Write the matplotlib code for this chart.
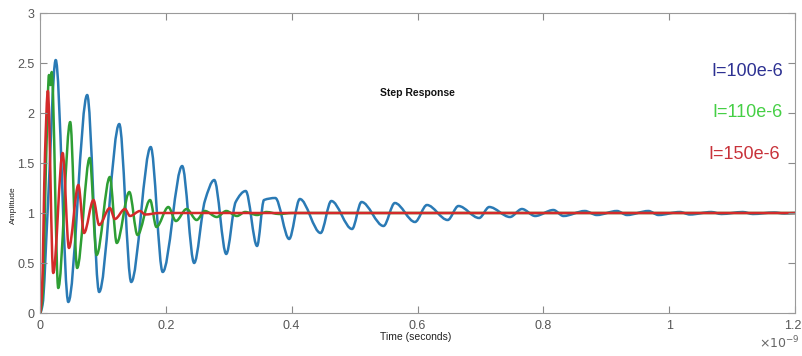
import matplotlib
matplotlib.use("Agg")
import matplotlib.pyplot as plt
from matplotlib.path import Path
from matplotlib.patches import PathPatch
import matplotlib.transforms as mtransforms

plt.rcParams['font.family'] = ['Liberation Sans', 'DejaVu Sans']

# time in units of 1e-9 s
t_blue = [0, 0.004, 0.012, 0.025, 0.045, 0.075, 0.094, 0.126, 0.145, 0.176, 0.195,
          0.226, 0.245, 0.262, 0.277, 0.296, 0.311, 0.327, 0.345, 0.356, 0.374, 0.396,
          0.413, 0.446, 0.463, 0.496, 0.511, 0.546, 0.564, 0.596, 0.615, 0.648, 0.665,
          0.698, 0.714, 0.747, 0.766, 0.787, 0.816, 0.832, 0.866, 0.885, 0.917, 0.933,
          0.967, 0.983, 1.017, 1.033, 1.067, 1.083, 1.117, 1.133, 1.167, 1.183, 1.2]
y_blue = [0, 0.08, 1.0, 2.53, 0.11, 2.18, 0.21, 1.89, 0.31, 1.66, 0.41,
          1.47, 0.50, 1.12, 1.33, 0.59, 1.11, 1.22, 0.67, 1.13, 1.15, 0.74,
          1.14, 0.80, 1.12, 0.84, 1.11, 0.87, 1.10, 0.91, 1.08, 0.93, 1.07,
          0.95, 1.06, 0.96, 1.04, 0.97, 1.03, 0.97, 1.02, 0.98, 1.02, 0.98,
          1.02, 0.98, 1.01, 0.985, 1.01, 0.99, 1.01, 0.99, 1.005, 0.995, 1.0]

t_green = [0, 0.004, 0.010, 0.0143, 0.0165, 0.0186, 0.029, 0.048, 0.059, 0.079, 0.090,
           0.111, 0.122, 0.142, 0.155, 0.175, 0.185, 0.204, 0.216, 0.233, 0.249,
           0.262, 0.281, 0.296, 0.313, 0.326, 0.345, 0.36, 0.38, 0.40, 1.2]
y_green = [0, 0.15, 1.6, 2.38, 2.28, 2.41, 0.25, 1.91, 0.45, 1.55, 0.58,
           1.36, 0.70, 1.21, 0.78, 1.13, 0.86, 1.06, 0.92, 1.04, 0.93,
           1.02, 0.96, 1.02, 0.97, 1.01, 0.98, 1.01, 0.99, 1.0, 1.0]

t_red = [0, 0.003, 0.008, 0.0125, 0.021, 0.036, 0.046, 0.061, 0.070, 0.085, 0.094,
         0.111, 0.119, 0.135, 0.143, 0.159, 0.167, 0.19, 1.2]
y_red = [0, 0.2, 1.6, 2.22, 0.40, 1.60, 0.65, 1.28, 0.80, 1.13, 0.88,
         1.05, 0.94, 1.04, 0.97, 1.02, 0.985, 1.0, 1.0]

labels = ["I=100e-6", "I=110e-6", "I=150e-6"]
label_colors = ["#2d3192", "#45cf45", "#c8323a"]
line_colors = ["#2a7ab5", "#2e9e34", "#d42a2a"]
xticks = [0, 0.2, 0.4, 0.6, 0.8, 1.0, 1.2]
xticklabels = ["0", "0.2", "0.4", "0.6", "0.8", "1", "1.2"]
yticks = [0, 0.5, 1, 1.5, 2, 2.5, 3]
yticklabels = ["0", "0.5", "1", "1.5", "2", "2.5", "3"]


def smooth_path(t, y):
    """Cubic Bezier path through the data points (flat tangents at extrema)."""
    n = len(t)
    m = []
    for i in range(n):
        if i == 0 or i == n - 1:
            m.append(0.0)
            continue
        d0 = (y[i] - y[i-1]) / (t[i] - t[i-1])
        d1 = (y[i+1] - y[i]) / (t[i+1] - t[i])
        if d0 * d1 <= 0:
            m.append(0.0)
        else:
            w0 = 2 * (t[i+1] - t[i]) + (t[i] - t[i-1])
            w1 = (t[i+1] - t[i]) + 2 * (t[i] - t[i-1])
            m.append((w0 + w1) / (w0 / d0 + w1 / d1))
    verts = [(t[0], y[0])]
    codes = [Path.MOVETO]
    for i in range(n - 1):
        h = t[i+1] - t[i]
        verts += [(t[i] + h/3, y[i] + m[i]*h/3),
                  (t[i+1] - h/3, y[i+1] - m[i+1]*h/3),
                  (t[i+1], y[i+1])]
        codes += [Path.CURVE4] * 3
    return Path(verts, codes)


fig = plt.figure(figsize=(8.02, 3.56), dpi=100)
ax = fig.add_axes([40/802, 1-313/356, 755/802, 300/356])

for t, y, c in zip([t_blue, t_green, t_red], [y_blue, y_green, y_red], line_colors):
    ax.add_patch(PathPatch(smooth_path(t, y), facecolor='none', edgecolor=c,
                           lw=1.8, joinstyle='round', capstyle='round'))

ax.set_xlim(0, 1.2)
ax.set_ylim(0, 3)
ax.set_xticks(xticks)
ax.set_xticklabels(xticklabels)
ax.set_yticks(yticks)
ax.set_yticklabels(yticklabels)
ax.tick_params(direction='in', length=5, width=0.8, color='#8a8a8a',
               labelcolor='#555555', labelsize=9, top=True, right=True)
ax.tick_params(axis='x', pad=5)
ax.tick_params(axis='y', pad=4)
for s in ax.spines.values():
    s.set_color('#9a9a9a')
    s.set_linewidth(0.8)

last = ax.get_xticklabels()[-1]
last.set_ha('right')
last.set_transform(last.get_transform() +
                   mtransforms.ScaledTranslation(6/100, 0, fig.dpi_scale_trans))

ax.set_xlabel("Time (seconds)", fontsize=7.5, color='#222222')
ax.xaxis.set_label_coords((416-40)/755, -(337-313)/300)
ax.xaxis.label.set_va('center')
ax.set_ylabel("Amplitude", fontsize=6, color='#222222')
ax.yaxis.set_label_coords(-(40-13.5)/755, (313-205)/300)
ax.yaxis.label.set_va('center')

fig.text(417/802, 1-92.5/356, "Step Response", fontsize=7.5, fontweight='bold',
         ha='center', va='center', color='#111111')
fig.text(800/802, 1-343/356, r"$\times10^{-9}$", fontsize=9, color='#666666',
         ha='right', va='center')

label_y = [71, 113, 154]
label_x = [783, 783, 780]
for lab, c, lx, ly in zip(labels, label_colors, label_x, label_y):
    fig.text(lx/802, 1-ly/356, lab, fontsize=13, color=c, ha='right', va='center')

fig.savefig("out.png", dpi=100)
